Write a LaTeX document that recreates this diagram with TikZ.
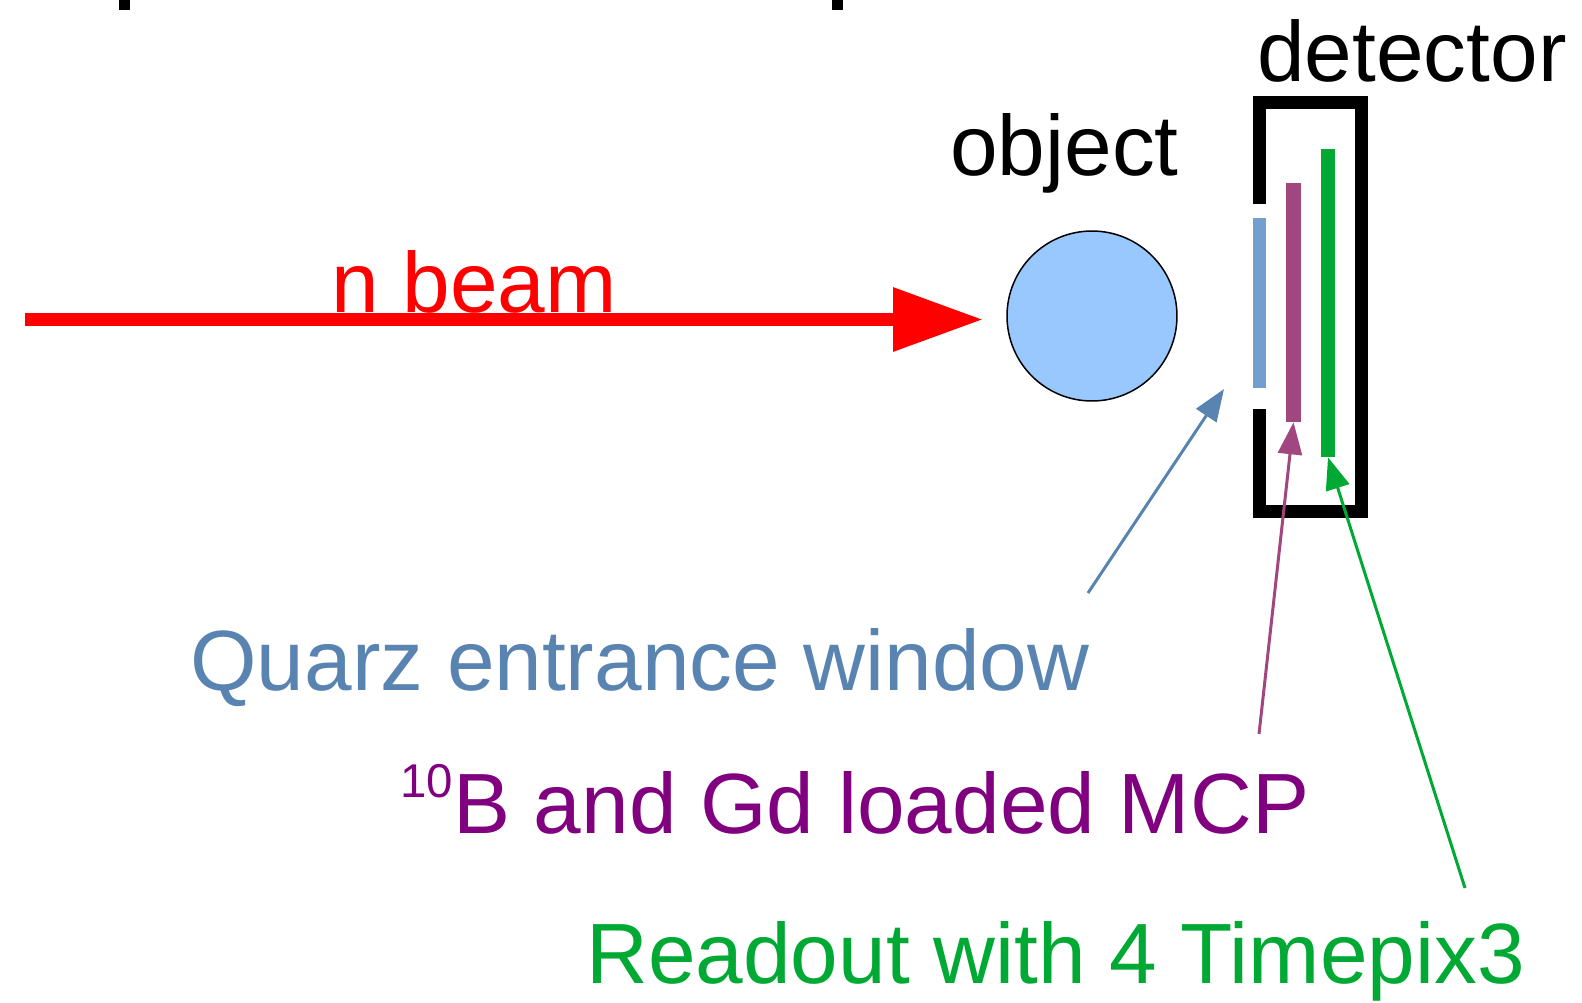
\documentclass[tikz,border=0pt]{standalone}
\usepackage{fontspec}
\setmainfont{Liberation Sans}
\usetikzlibrary{arrows.meta}
\definecolor{beamred}{HTML}{FF0000}
\definecolor{quarzblue}{HTML}{5983B0}
\definecolor{windowblue}{HTML}{729FCF}
\definecolor{mcppurple}{HTML}{800080}
\definecolor{mcpbar}{HTML}{A1467E}
\definecolor{tpxgreen}{HTML}{00A933}
\definecolor{objblue}{HTML}{99C8FF}
\newcommand*{\bigfont}{\fontsize{48.7}{58}\selectfont}

\begin{document}
\begin{tikzpicture}[x=0.02cm, y=-0.02cm,
    txt/.style = {anchor=base west, inner sep=0pt, font=\bigfont},
    layer/.style = {rectangle, draw=none, inner sep=0pt},
    pointer/.style = {line width=0.06cm, -{Triangle[length=0.64cm,width=0.48cm]}}]
		\useasboundingbox (0,0) rectangle (1582,1002);
		% cut off title
		\fill (119,0) rectangle (130,10);
		\fill (832,0) rectangle (843,10);

		\node[circle, draw, line width=0.03cm, fill=objblue, minimum size=3.4cm, inner sep=0pt] (object) at (1092,316) {};
		\node[txt] (objlabel) at (950,175) {object};
		\node[txt] (detlabel) at (1257,81) {detector};

		% detector housing
		\draw[line width=0.26cm] (1259.5,204) -- (1259.5,102) -- (1361.5,102) -- (1361.5,511) -- (1259.5,511) -- (1259.5,409);
		\node[layer, fill=windowblue, minimum width=0.26cm, minimum height=3.4cm] (window) at (1259.5,303) {};
		\node[layer, fill=mcpbar, minimum width=0.3cm, minimum height=4.78cm] (mcp) at (1293.5,302.5) {};
		\node[layer, fill=tpxgreen, minimum width=0.28cm, minimum height=6.16cm] (tpx) at (1328,303) {};

		% beam
		\coordinate (beamstart) at (25,319.5);
		\coordinate (beamend) at (983,319.5);
		\draw[beamred, line width=0.26cm, -{Triangle[length=1.8cm,width=1.22cm]}] (beamstart) -- (beamend);
		\node[txt, text=beamred] (beamlabel) at (331,312) {n beam};

		% labels
		\node[txt, text=quarzblue] (quarzlabel) at (190,690) {Quarz entrance window};
		\node[txt, text=mcppurple] (mcplabel) at (400,833) {\raisebox{0.72cm}{\fontsize{27}{30}\selectfont 10}B and Gd loaded MCP};
		\node[txt, text=tpxgreen] (tpxlabel) at (586,983) {Readout with 4 Timepix3};

		\coordinate (quarztail) at (1088,593);
		\coordinate (quarztip) at (1224,389);
		\coordinate (mcptail) at (1259,734);
		\coordinate (tpxtail) at (1465,888);
		\draw[pointer, quarzblue] (quarztail) -- (quarztip);
		\draw[pointer, mcpbar] (mcptail) -- (mcp.south);
		\draw[pointer, tpxgreen] (tpxtail) -- (tpx.south);
\end{tikzpicture}
\end{document}
